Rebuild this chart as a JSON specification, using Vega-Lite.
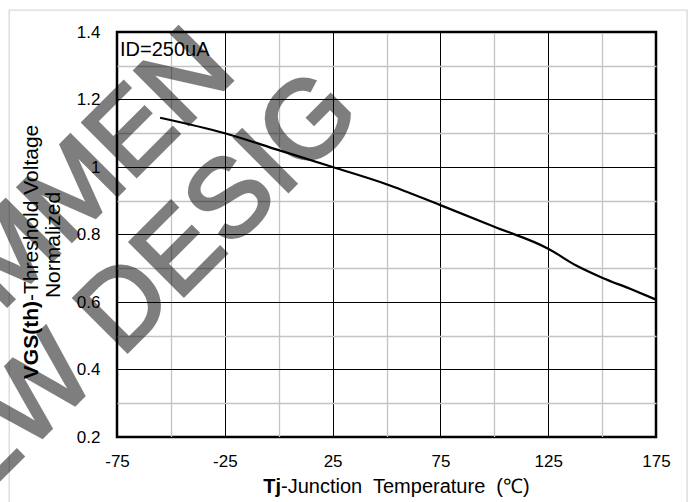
{
  "$schema": "https://vega.github.io/schema/vega-lite/v6.json",
  "width": 539,
  "height": 405,
  "autosize": {"type": "none"},
  "padding": {"left": 117, "top": 32, "right": 39, "bottom": 65},
  "background": "white",
  "config": {
    "font": "Liberation Sans",
    "view": {"stroke": "black", "strokeWidth": 2.5}
  },
  "data": {"values": [
    {"Tj": -55, "VGS": 1.146},
    {"Tj": -25, "VGS": 1.100},
    {"Tj": 0, "VGS": 1.050},
    {"Tj": 25, "VGS": 1.000},
    {"Tj": 50, "VGS": 0.949},
    {"Tj": 75, "VGS": 0.887},
    {"Tj": 100, "VGS": 0.823},
    {"Tj": 125, "VGS": 0.758},
    {"Tj": 138, "VGS": 0.708},
    {"Tj": 150, "VGS": 0.672},
    {"Tj": 163, "VGS": 0.639},
    {"Tj": 175, "VGS": 0.607}
  ]},
  "resolve": {"axis": {"x": "independent", "y": "independent"}},
  "layer": [
    {
      "data": {"values": [{"frame": "chart area"}]},
      "mark": {"type": "rect", "fill": null, "fillOpacity": 0, "stroke": "#d9d9d9", "strokeWidth": 1.3, "clip": false},
      "encoding": {
        "x": {"datum": -125, "type": "quantitative", "scale": {"domain": [-75, 175], "nice": false, "zero": false},
          "axis": {"orient": "top", "values": [-50, 0, 50, 100, 150], "grid": true, "gridColor": "#c4c4c4", "gridWidth": 1.3, "labels": false, "ticks": false, "domain": false, "title": null}},
        "x2": {"datum": 189.4},
        "y": {"datum": 1.465, "type": "quantitative", "scale": {"domain": [0.2, 1.4], "nice": false, "zero": false},
          "axis": {"orient": "right", "values": [0.3, 0.5, 0.7, 0.9, 1.1, 1.3], "grid": true, "gridColor": "#c4c4c4", "gridWidth": 1.3, "labels": false, "ticks": false, "domain": false, "title": null}},
        "y2": {"datum": 0.0}
      }
    },
    {
      "mark": {"type": "line", "color": "black", "strokeWidth": 2.2, "interpolate": "monotone"},
      "encoding": {
        "x": {"field": "Tj", "type": "quantitative", "scale": {"domain": [-75, 175], "nice": false, "zero": false},
          "axis": {"orient": "bottom", "values": [-75, -25, 25, 75, 125, 175], "grid": true, "gridColor": "black", "gridWidth": 1, "domain": false, "ticks": false, "tickSize": 0, "labelPadding": 16, "labelFontSize": 17, "labelColor": "black", "labelFlush": false, "labelOverlap": false, "labelExpr": "'' + datum.value", "title": null}},
        "y": {"field": "VGS", "type": "quantitative", "scale": {"domain": [0.2, 1.4], "nice": false, "zero": false},
          "axis": {"orient": "left", "values": [0.2, 0.4, 0.6, 0.8, 1, 1.2, 1.4], "grid": true, "gridColor": "black", "gridWidth": 1, "domain": false, "ticks": false, "tickSize": 0, "labelPadding": 17, "labelFontSize": 17, "labelColor": "black", "labelOverlap": false, "labelExpr": "'' + datum.value", "title": null}}
      }
    },
    {
      "data": {"values": [{"label": "ID=250uA"}]},
      "mark": {"type": "text", "align": "left", "baseline": "alphabetic", "fontSize": 20, "color": "black"},
      "encoding": {
        "x": {"datum": -73.6, "type": "quantitative", "scale": {"domain": [-75, 175], "nice": false, "zero": false}, "axis": null},
        "y": {"datum": 1.33, "type": "quantitative", "scale": {"domain": [0.2, 1.4], "nice": false, "zero": false}, "axis": null},
        "text": {"field": "label"}
      }
    },
    {
      "data": {"values": [{"label": "Tj"}]},
      "mark": {"type": "text", "align": "right", "baseline": "alphabetic", "fontSize": 20, "fontWeight": "bold", "color": "black"},
      "encoding": {
        "x": {"datum": 1.1, "type": "quantitative", "scale": {"domain": [-75, 175], "nice": false, "zero": false}, "axis": null},
        "y": {"datum": 0.0332, "type": "quantitative", "scale": {"domain": [0.2, 1.4], "nice": false, "zero": false}, "axis": null},
        "text": {"field": "label"}
      }
    },
    {
      "data": {"values": [{"label": "-Junction\u00a0 Temperature\u00a0 (℃)"}]},
      "mark": {"type": "text", "align": "left", "baseline": "alphabetic", "fontSize": 20, "color": "black"},
      "encoding": {
        "x": {"datum": 1.1, "type": "quantitative", "scale": {"domain": [-75, 175], "nice": false, "zero": false}, "axis": null},
        "y": {"datum": 0.0332, "type": "quantitative", "scale": {"domain": [0.2, 1.4], "nice": false, "zero": false}, "axis": null},
        "text": {"field": "label"}
      }
    },
    {
      "data": {"values": [{"label": "VGS(th)"}]},
      "mark": {"type": "text", "align": "right", "baseline": "alphabetic", "angle": 270, "fontSize": 21, "fontWeight": "bold", "color": "black"},
      "encoding": {
        "x": {"datum": -111.6, "type": "quantitative", "scale": {"domain": [-75, 175], "nice": false, "zero": false}, "axis": null},
        "y": {"datum": 0.603, "type": "quantitative", "scale": {"domain": [0.2, 1.4], "nice": false, "zero": false}, "axis": null},
        "text": {"field": "label"}
      }
    },
    {
      "data": {"values": [{"label": "-Threshold Voltage"}]},
      "mark": {"type": "text", "align": "left", "baseline": "alphabetic", "angle": 270, "fontSize": 21, "color": "black"},
      "encoding": {
        "x": {"datum": -111.6, "type": "quantitative", "scale": {"domain": [-75, 175], "nice": false, "zero": false}, "axis": null},
        "y": {"datum": 0.603, "type": "quantitative", "scale": {"domain": [0.2, 1.4], "nice": false, "zero": false}, "axis": null},
        "text": {"field": "label"}
      }
    },
    {
      "data": {"values": [{"label": "Normalized"}]},
      "mark": {"type": "text", "align": "center", "baseline": "alphabetic", "angle": 270, "fontSize": 21, "color": "black"},
      "encoding": {
        "x": {"datum": -101.4, "type": "quantitative", "scale": {"domain": [-75, 175], "nice": false, "zero": false}, "axis": null},
        "y": {"datum": 0.769, "type": "quantitative", "scale": {"domain": [0.2, 1.4], "nice": false, "zero": false}, "axis": null},
        "text": {"field": "label"}
      }
    },
    {
      "data": {"values": [{"label": "NOT RECOMMENDED"}]},
      "mark": {"type": "text", "align": "left", "baseline": "alphabetic", "angle": 315, "fontSize": 110, "limit": 985, "ellipsis": " ", "color": "black", "stroke": "black", "strokeWidth": 3.5, "opacity": 0.5},
      "encoding": {
        "x": {"datum": -318.7, "type": "quantitative", "scale": {"domain": [-75, 175], "nice": false, "zero": false}, "axis": null},
        "y": {"datum": -0.642, "type": "quantitative", "scale": {"domain": [0.2, 1.4], "nice": false, "zero": false}, "axis": null},
        "text": {"field": "label"}
      }
    },
    {
      "data": {"values": [{"label": "FOR NEW DESIGN"}]},
      "mark": {"type": "text", "align": "left", "baseline": "alphabetic", "angle": 315, "fontSize": 110, "limit": 930, "ellipsis": " ", "color": "black", "stroke": "black", "strokeWidth": 3.5, "opacity": 0.5},
      "encoding": {
        "x": {"datum": -253.4, "type": "quantitative", "scale": {"domain": [-75, 175], "nice": false, "zero": false}, "axis": null},
        "y": {"datum": -0.7185, "type": "quantitative", "scale": {"domain": [0.2, 1.4], "nice": false, "zero": false}, "axis": null},
        "text": {"field": "label"}
      }
    }
  ]
}
